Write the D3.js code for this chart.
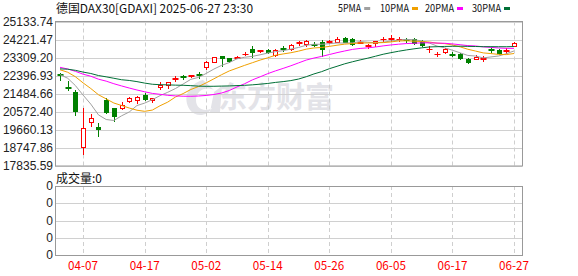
<!DOCTYPE html>
<meta charset="utf-8">
<style>
body { margin: 0; background: #fff; }
svg { display: block; }
text { font-family: "Noto Sans CJK SC", "Liberation Sans", sans-serif; }
.ylab { font-family: "Liberation Sans", Arial, sans-serif; font-size: 12px; fill: #222; }
</style>
<svg id="chart" width="578" height="276"></svg>
<script src="https://d3js.org/d3.v7.min.js"></script>
<script>
// trading days shown
var dates = ["04-02","04-03","04-04","04-07","04-08","04-09","04-10","04-11","04-14","04-15",
  "04-16","04-17","04-22","04-23","04-24","04-25","04-28","04-29","04-30","05-02",
  "05-05","05-06","05-07","05-08","05-09","05-12","05-13","05-14","05-15","05-16",
  "05-19","05-20","05-21","05-22","05-23","05-26","05-27","05-28","05-29","05-30",
  "06-02","06-03","06-04","06-05","06-06","06-09","06-10","06-11","06-12","06-13",
  "06-16","06-17","06-18","06-19","06-20","06-23","06-24","06-25","06-26","06-27"];

var opens = [22500,21840,21550,18783,20050,19812,21180,20760,20790,21114,
  21165,21434,21165,21846,21941,22245,22361,22381,22473,22817,
  23106,23410,23273,23292,23496,23750,23650,23714,23445,23800,
  23750,24054,23983,24003,24084,24105,24120,24287,24257,24069,
  23881,24054,24237,24272,24247,24237,24250,24140,23740,23480,
  23578,23480,23476,23242,23242,23260,23730,23714,23640,23917];
var highs = [22520,22143,21672,20790,20486,20030,21267,20790,21044,21317,
  21383,21500,21267,22058,22100,22361,22447,22440,22599,23115,
  23365,23415,23309,23393,23578,23917,23713,23750,23750,23917,
  24003,24170,24186,24085,24221,24206,24338,24338,24287,24206,
  23975,24170,24373,24474,24373,24322,24300,24180,23881,23578,
  23816,23578,23547,23293,23445,23410,23783,23750,23783,24085];
var lows = [22190,21672,20420,18459,19878,19356,20537,20116,20710,21044,
  20993,21165,21044,21722,21753,22143,22228,22310,22260,22736,
  23071,22909,23106,23273,23445,23359,23578,23547,23410,23664,
  23714,23952,23917,23881,23410,24054,24084,24084,23968,24054,
  23783,23917,24135,24170,24135,24120,24000,23900,23612,23375,
  23547,23375,23242,23055,23235,23140,23612,23500,23547,23880];
var closes = [22420,21753,20623,19746,20268,19695,20587,20370,20927,21246,
  21317,21196,21246,21941,22093,22260,22336,22432,22422,23106,
  23359,23273,23141,23359,23511,23578,23670,23578,23714,23765,
  23968,24088,24135,23968,23750,24135,24257,24120,24003,24085,
  23968,24135,24257,24297,24262,24206,24040,23960,23760,23495,
  23750,23455,23293,23106,23344,23280,23700,23527,23670,24054];

// closes before the first visible day, needed for the moving averages
var priorCloses = [22314,22287,22426,22410,22794,22551,22551,23147,22327,23081,
  23419,23009,22620,22329,22676,22568,22987,23154,23380,23288,
  22999,22892,22852,23109,22840,22679,22461,22163,22539];

var tickLabels = ["04-07","04-17","05-02","05-14","05-26","06-05","06-17","06-27"];
var yTicks = [17835.59,18747.86,19660.13,20572.40,21484.66,22396.93,23309.20,24221.47,25133.74];
var maPeriods = [5, 10, 20, 30];
var maNames = ["5PMA", "10PMA", "20PMA", "30PMA"];
var maColors = ["#a0a0a0", "#f0a000", "#ff00ff", "#006f36"];

var svg = d3.select("#chart");
var left = 55, right = 522;
var top1 = 21.5, bot1 = 166;
var top2 = 186, bot2 = 255;
var upColor = "#ff0000", downColor = "#008000";

var x = d3.scalePoint().domain(dates).range([60, 514]);
var y = d3.scaleLinear().domain([yTicks[0], yTicks[yTicks.length - 1]]).range([bot1, top1]);
var yv = d3.scaleLinear().domain([0, 4]).range([bot2, top2]);

function px(v) { return Math.round(v) + 0.5 }

svg.append("rect").attr("width", 578).attr("height", 276).attr("fill", "#fff");

// watermark
var wm = svg.append("g").attr("fill", "#e3e3e8");
wm.append("path")
  .attr("d", "M203,80 C188,84 182,98 190,110 C196,118 208,116 212,108 C206,112 196,110 196,100 C196,90 206,86 214,90 Z M214,92 L222,86 L220,112 L210,112 Z");
wm.append("text").attr("x", 218).attr("y", 108).attr("font-size", 29).attr("font-weight", "bold")
  .text("东方财富");

// main grid
var g1 = svg.append("g");
g1.selectAll(".hg").data(yTicks).enter().append("line")
  .attr("x1", left).attr("x2", right)
  .attr("y1", function (d) { return px(y(d)) }).attr("y2", function (d) { return px(y(d)) })
  .attr("stroke", "#d0d0d0");
g1.selectAll(".vg").data(tickLabels).enter().append("line")
  .attr("x1", function (d) { return px(x(d)) }).attr("x2", function (d) { return px(x(d)) })
  .attr("y1", top1).attr("y2", bot1)
  .attr("stroke", "#cfcfcf").attr("stroke-dasharray", "4,3");

svg.selectAll(".ylab").data(yTicks).enter().append("text")
  .attr("class", "ylab")
  .attr("x", 53).attr("y", function (d) { return y(d) + 4 })
  .attr("text-anchor", "end")
  .text(d3.format(".2f"));

// candles
var cg = svg.append("g");
dates.forEach(function (d, i) {
  var cx = px(x(d));
  var up = closes[i] >= opens[i];
  var col = up ? upColor : downColor;
  var yo = Math.round(y(opens[i])), yc = Math.round(y(closes[i]));
  var yh = Math.round(y(highs[i])), yl = Math.round(y(lows[i]));
  var bt = Math.min(yo, yc), bb = Math.max(yo, yc);
  if (bb - bt <= 1) {
    cg.append("line").attr("x1", cx).attr("x2", cx).attr("y1", yh).attr("y2", yl + 1).attr("stroke", col);
    cg.append("line").attr("x1", cx - 3).attr("x2", cx + 3).attr("y1", bt + 0.5).attr("y2", bt + 0.5).attr("stroke", col);
    if (bb > bt) cg.append("line").attr("x1", cx - 3).attr("x2", cx + 3).attr("y1", bb + 0.5).attr("y2", bb + 0.5).attr("stroke", col);
  } else if (up) {
    cg.append("line").attr("x1", cx).attr("x2", cx).attr("y1", yh).attr("y2", bt).attr("stroke", col);
    cg.append("line").attr("x1", cx).attr("x2", cx).attr("y1", bb + 1).attr("y2", yl + 1).attr("stroke", col);
    cg.append("rect").attr("x", cx - 2).attr("y", bt + 0.5).attr("width", 4).attr("height", bb - bt)
      .attr("fill", "#fff").attr("stroke", col);
  } else {
    cg.append("line").attr("x1", cx).attr("x2", cx).attr("y1", yh).attr("y2", yl + 1).attr("stroke", col);
    cg.append("rect").attr("x", cx - 2.5).attr("y", bt).attr("width", 5).attr("height", bb - bt + 1)
      .attr("fill", col);
  }
});

// moving averages
var allCloses = priorCloses.concat(closes);
var off = priorCloses.length;
maPeriods.forEach(function (n, k) {
  var pts = dates.map(function (d, i) {
    var j = i + off;
    return [x(d), d3.mean(allCloses.slice(j - n + 1, j + 1))];
  });
  svg.append("path")
    .attr("d", d3.line().x(function (p) { return p[0] }).y(function (p) { return y(p[1]) })(pts))
    .attr("fill", "none").attr("stroke", maColors[k]).attr("stroke-width", 1);
});

svg.append("rect").attr("x", left + 0.5).attr("y", top1).attr("width", right - left).attr("height", bot1 - top1)
  .attr("fill", "none").attr("stroke", "#999");

// title and legend
svg.append("text").attr("x", 56).attr("y", 13).attr("font-size", 12).attr("fill", "#111")
  .attr("textLength", 197).attr("lengthAdjust", "spacingAndGlyphs")
  .text("德国DAX30[GDAXI] 2025-06-27 23:30");

var legX = [338, 380, 425, 472];
maNames.forEach(function (nm, k) {
  var w = nm.length * 5.8;
  svg.append("text").attr("x", legX[k]).attr("y", 12).attr("font-size", 11).attr("fill", "#111")
    .attr("textLength", w).attr("lengthAdjust", "spacingAndGlyphs").text(nm);
  svg.append("rect").attr("x", legX[k] + w + 3).attr("y", 7).attr("width", 6).attr("height", 3)
    .attr("fill", maColors[k]);
});

// volume panel
svg.append("text").attr("x", 56).attr("y", 183).attr("font-size", 12).attr("fill", "#111")
  .text("成交量:0");
var vTicks = [0, 1, 2, 3, 4];
svg.selectAll(".vh").data(vTicks.slice(1, 4)).enter().append("line")
  .attr("x1", left).attr("x2", right)
  .attr("y1", function (d) { return px(yv(d)) }).attr("y2", function (d) { return px(yv(d)) })
  .attr("stroke", "#d0d0d0");
svg.selectAll(".vv").data(tickLabels).enter().append("line")
  .attr("x1", function (d) { return px(x(d)) }).attr("x2", function (d) { return px(x(d)) })
  .attr("y1", top2).attr("y2", bot2)
  .attr("stroke", "#cfcfcf").attr("stroke-dasharray", "4,3");
svg.selectAll(".vlab").data(vTicks).enter().append("text")
  .attr("class", "ylab")
  .attr("x", 53).attr("y", function (d) { return yv(d) + 4 })
  .attr("text-anchor", "end")
  .text("0");
svg.append("rect").attr("x", left + 0.5).attr("y", px(top2)).attr("width", right - left).attr("height", bot2 - top2)
  .attr("fill", "none").attr("stroke", "#999");

svg.selectAll(".xlab").data(tickLabels).enter().append("text")
  .attr("x", function (d) { return x(d) }).attr("y", 270)
  .attr("text-anchor", "middle").attr("font-size", 12).attr("fill", "#ff0000")
  .attr("textLength", 30).attr("lengthAdjust", "spacingAndGlyphs")
  .text(function (d) { return d });
</script>
